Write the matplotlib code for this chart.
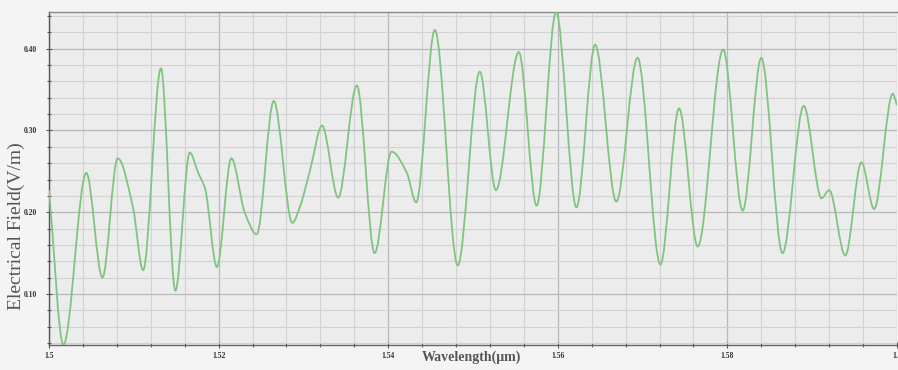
import numpy as np
import matplotlib
matplotlib.use("Agg")
import matplotlib.pyplot as plt
from matplotlib.path import Path
from matplotlib.patches import PathPatch
from matplotlib.ticker import MultipleLocator, FixedLocator, FixedFormatter

# Wavelength samples (um) and field amplitude (V/m) along the spectrum
wavelength = [1.5000, 1.5017, 1.5044, 1.5063, 1.5081, 1.5099, 1.5111, 1.5132,
              1.5149, 1.5166, 1.5176, 1.5184, 1.5198, 1.5215, 1.5231, 1.5245,
              1.5265, 1.5287, 1.5296, 1.5308, 1.5322, 1.5341, 1.5363, 1.5384,
              1.5404, 1.5422, 1.5433, 1.5455, 1.5482, 1.5508, 1.5527, 1.5554,
              1.5575, 1.5598, 1.5622, 1.5644, 1.5669, 1.5694, 1.5721, 1.5743,
              1.5765, 1.5795, 1.5818, 1.5840, 1.5865, 1.5890, 1.5911, 1.5920,
              1.5939, 1.5958, 1.5973, 1.5995, 1.6000]
field = [0.227, 0.038, 0.248, 0.120, 0.266, 0.206, 0.129, 0.376,
         0.104, 0.273, 0.248, 0.229, 0.133, 0.266, 0.199, 0.173,
         0.336, 0.187, 0.207, 0.252, 0.306, 0.218, 0.355, 0.150,
         0.274, 0.248, 0.212, 0.423, 0.135, 0.372, 0.227, 0.396,
         0.208, 0.445, 0.206, 0.405, 0.213, 0.389, 0.136, 0.327,
         0.158, 0.399, 0.202, 0.389, 0.150, 0.330, 0.217, 0.227,
         0.147, 0.261, 0.204, 0.345, 0.331]

x_ticks = [1.50, 1.52, 1.54, 1.56, 1.58, 1.60]
x_tick_labels = ["1.5", "1.52", "1.54", "1.56", "1.58", "1.6"]
y_ticks = [0.10, 0.20, 0.30, 0.40]
y_tick_labels = ["0.10", "0.20", "0.30", "0.40"]


def smooth_path(xs, ys):
    """Monotone cubic (Fritsch-Carlson) curve through the samples as Bezier segments."""
    xs = np.asarray(xs, float)
    ys = np.asarray(ys, float)
    h = np.diff(xs)
    d = np.diff(ys) / h
    m = np.zeros_like(ys)
    m[0], m[-1] = d[0], d[-1]
    for i in range(1, len(ys) - 1):
        if d[i - 1] * d[i] > 0:
            w1 = 2 * h[i] + h[i - 1]
            w2 = h[i] + 2 * h[i - 1]
            m[i] = (w1 + w2) / (w1 / d[i - 1] + w2 / d[i])
    verts = [(xs[0], ys[0])]
    codes = [Path.MOVETO]
    for i in range(len(xs) - 1):
        t = h[i] / 3.0
        verts += [(xs[i] + t, ys[i] + m[i] * t),
                  (xs[i + 1] - t, ys[i + 1] - m[i + 1] * t),
                  (xs[i + 1], ys[i + 1])]
        codes += [Path.CURVE4] * 3
    return Path(verts, codes)


fig = plt.figure(figsize=(8.98, 3.70), dpi=100, facecolor="#f4f4f4")
ax = fig.add_axes([49 / 898, 25 / 370, 848 / 898, 333 / 370])
ax.set_facecolor("#ececec")

ax.add_patch(PathPatch(smooth_path(wavelength, field), facecolor="none",
                       edgecolor="#80c480", linewidth=1.3, zorder=3))

ax.set_xlim(1.5, 1.6)
ax.set_ylim(0.0375, 0.445)

ax.xaxis.set_major_locator(FixedLocator(x_ticks))
ax.xaxis.set_major_formatter(FixedFormatter(x_tick_labels))
ax.xaxis.set_minor_locator(MultipleLocator(0.004))
ax.yaxis.set_major_locator(FixedLocator(y_ticks))
ax.yaxis.set_major_formatter(FixedFormatter(y_tick_labels))
ax.yaxis.set_minor_locator(MultipleLocator(0.02))

ax.grid(which="minor", color="#d2d2d2", linewidth=0.8)
ax.grid(which="major", color="#b8b8b8", linewidth=0.9)
ax.set_axisbelow(True)

for lab in ax.get_xticklabels() + ax.get_yticklabels():
    lab.set_fontfamily("Liberation Serif")
    lab.set_fontweight("bold")
    lab.set_fontsize(5.5)
    lab.set_color("#333333")

ax.tick_params(which="both", direction="inout", color="#555555", width=0.8)
ax.tick_params(which="major", length=4)
ax.tick_params(which="minor", length=3)
ax.tick_params(axis="y", which="major", pad=7)
ax.tick_params(axis="x", which="major", pad=3)

ax.spines["left"].set_color("#555555")
ax.spines["bottom"].set_color("#666666")
ax.spines["top"].set_color("#8a8a8a")
ax.spines["right"].set_visible(False)
for s in ax.spines.values():
    s.set_linewidth(1.0)

fig.text(16 / 898, 1 - 226 / 370, "Electrical Field(V/m)", rotation=90,
         ha="center", va="center", family="Liberation Serif", fontsize=14,
         color="#555555")
fig.text(471 / 898, 1 - 357 / 370, "Wavelength(\u03bcm)", ha="center", va="center",
         family="Liberation Serif", fontsize=10, color="#555555", fontweight="bold")

fig.savefig("out.png", dpi=100, facecolor=fig.get_facecolor())
